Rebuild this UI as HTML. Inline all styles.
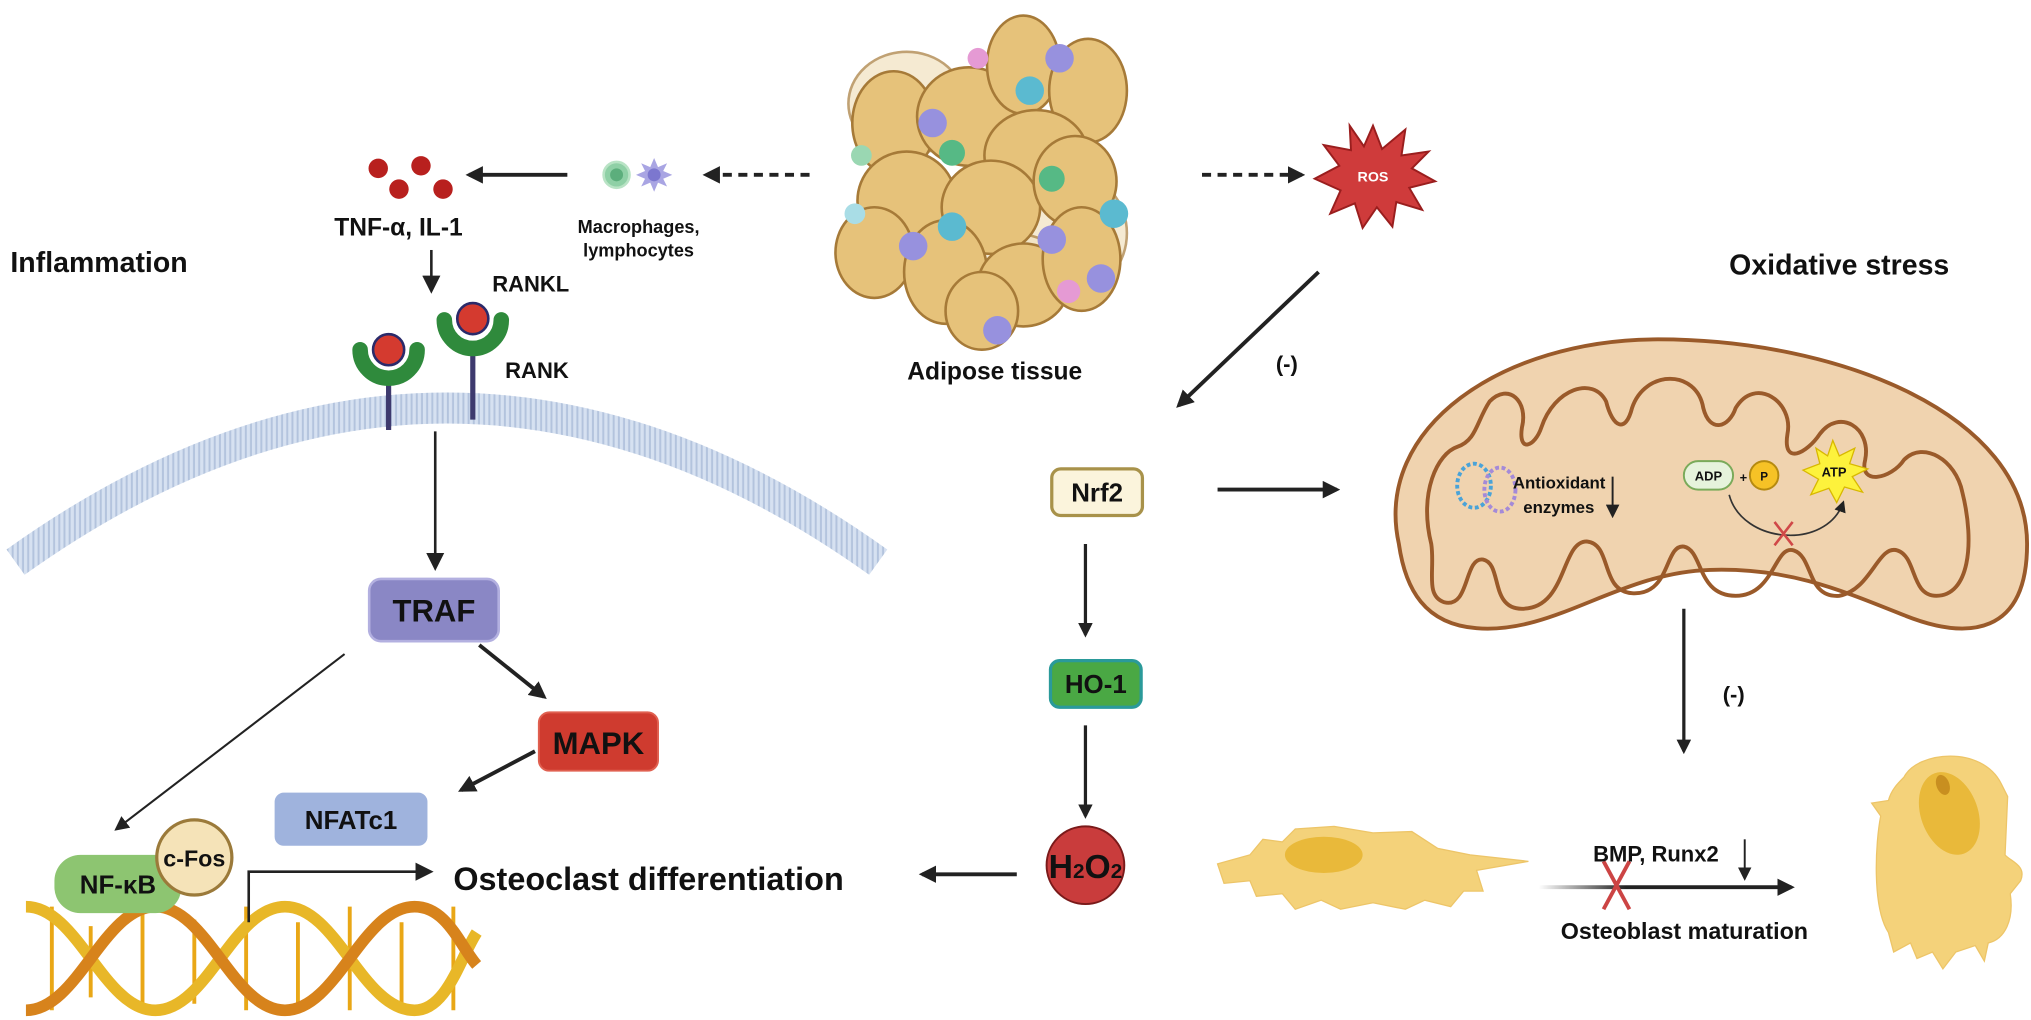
<!DOCTYPE html>
<html><head><meta charset="utf-8"><style>
html,body{margin:0;padding:0;background:#fff;}
svg{display:block;}
text{font-family:"Liberation Sans",sans-serif;font-weight:bold;fill:#111;}
</style></head><body>
<svg width="2031" height="1020" viewBox="0 0 1568 787.5" xmlns="http://www.w3.org/2000/svg">
<defs>
<marker id="ah" viewBox="0 0 10 10" refX="8" refY="5" markerWidth="4.5" markerHeight="4.5" orient="auto"><path d="M0,0 L10,5 L0,10 z" fill="#222"/></marker>
<marker id="ahs" viewBox="0 0 10 10" refX="8" refY="5" markerWidth="7" markerHeight="7" orient="auto"><path d="M0,0 L10,5 L0,10 z" fill="#222"/></marker>
<linearGradient id="fade" gradientUnits="userSpaceOnUse" x1="1188" y1="0" x2="1300" y2="0"><stop offset="0" stop-color="#222" stop-opacity="0"/><stop offset="0.6" stop-color="#222"/><stop offset="1" stop-color="#222"/></linearGradient>
<pattern id="lip" width="4" height="30" patternUnits="userSpaceOnUse"><rect width="4" height="30" fill="#dfe8f4"/><rect x="1" y="0" width="1.5" height="30" fill="#a9bbd6"/></pattern>
</defs>

<text x="8" y="210" font-size="22">Inflammation</text>
<text x="1335" y="212" font-size="22">Oxidative stress</text>

<g fill="#b8201e"><circle cx="292" cy="130" r="7.5"/><circle cx="325" cy="128" r="7.5"/><circle cx="308" cy="146" r="7.5"/><circle cx="342" cy="146" r="7.5"/></g>
<line x1="438" y1="135" x2="362" y2="135" stroke="#222" stroke-width="3" marker-end="url(#ah)"/>
<circle cx="476" cy="135" r="10" fill="#8fd0a6" stroke="#b9e3c5" stroke-width="2"/>
<circle cx="476" cy="135" r="5" fill="#5cae7c"/>
<polygon points="505,122 508,129 515,126 512,132 519,135 512,138 515,144 508,141 505,148 502,141 495,144 498,138 491,135 498,132 495,126 502,129" fill="#a9a5e3"/>
<circle cx="505" cy="135" r="5" fill="#7c77cf"/>
<line x1="625" y1="135" x2="545" y2="135" stroke="#222" stroke-width="3" stroke-dasharray="7,5" marker-end="url(#ah)"/>
<text x="258" y="182" font-size="19">TNF-α, IL-1</text>
<text x="493" y="180" font-size="14" text-anchor="middle">Macrophages,</text>
<text x="493" y="198" font-size="14" text-anchor="middle">lymphocytes</text>
<line x1="333" y1="193" x2="333" y2="224" stroke="#222" stroke-width="2" marker-end="url(#ahs)"/>
<text x="380" y="225" font-size="17">RANKL</text>
<text x="390" y="292" font-size="17">RANK</text>

<path d="M12,434 Q345,196 678,434" fill="none" stroke="url(#lip)" stroke-width="24"/>
<path d="M12,434 Q345,196 678,434" fill="none" stroke="#c7d5ea" stroke-width="24" stroke-opacity="0.35"/>

<g>
<line x1="300" y1="290" x2="300" y2="332" stroke="#3e3a6e" stroke-width="4"/>
<path d="M278,270 A22,22 0 0 0 322,270" fill="none" stroke="#2f8a3c" stroke-width="12" stroke-linecap="round"/>
<circle cx="300" cy="270" r="12" fill="#d43a2f" stroke="#2a2a6a" stroke-width="2"/>
<line x1="365" y1="265" x2="365" y2="324" stroke="#3e3a6e" stroke-width="4"/>
<path d="M343,247 A22,22 0 0 0 387,247" fill="none" stroke="#2f8a3c" stroke-width="12" stroke-linecap="round"/>
<circle cx="365" cy="246" r="12" fill="#d43a2f" stroke="#2a2a6a" stroke-width="2"/>
</g>

<line x1="336" y1="333" x2="336" y2="438" stroke="#222" stroke-width="2" marker-end="url(#ahs)"/>

<rect x="285" y="447" width="100" height="48" rx="9" fill="#8a87c5" stroke="#b3b0e0" stroke-width="2"/>
<text x="335" y="480" font-size="24" text-anchor="middle">TRAF</text>
<line x1="370" y1="498" x2="420" y2="538" stroke="#222" stroke-width="3" marker-end="url(#ah)"/>
<rect x="416" y="550" width="92" height="45" rx="8" fill="#cf3b2f" stroke="#e06050" stroke-width="1.5"/>
<text x="462" y="582" font-size="24" text-anchor="middle">MAPK</text>
<line x1="413" y1="580" x2="356" y2="610" stroke="#222" stroke-width="3" marker-end="url(#ah)"/>
<rect x="212" y="612" width="118" height="41" rx="7" fill="#9fb3dd"/>
<text x="271" y="640" font-size="20" text-anchor="middle">NFATc1</text>
<line x1="266" y1="505" x2="90" y2="640" stroke="#222" stroke-width="1.6" marker-end="url(#ahs)"/>

<g>
<g stroke="#e9a716" stroke-width="3">
<line x1="40" y1="700" x2="40" y2="780"/><line x1="70" y1="715" x2="70" y2="770"/><line x1="110" y1="705" x2="110" y2="780"/><line x1="150" y1="710" x2="150" y2="775"/><line x1="190" y1="700" x2="190" y2="780"/><line x1="230" y1="712" x2="230" y2="775"/><line x1="270" y1="700" x2="270" y2="780"/><line x1="310" y1="712" x2="310" y2="775"/><line x1="350" y1="700" x2="350" y2="780"/>
</g>
<path d="M20,700 C60,700 80,780 120,780 C160,780 180,700 220,700 C260,700 280,780 320,780 C345,780 355,740 368,720" fill="none" stroke="#e8b728" stroke-width="9"/>
<path d="M20,780 C60,780 80,700 120,700 C160,700 180,780 220,780 C260,780 280,700 320,700 C345,700 355,730 368,745" fill="none" stroke="#d7831c" stroke-width="9"/>
</g>
<rect x="42" y="660" width="98" height="45" rx="20" fill="#8dc571"/>
<text x="91" y="690" font-size="20" text-anchor="middle">NF-κB</text>
<circle cx="150" cy="662" r="29" fill="#f5e3b8" stroke="#9b7a3a" stroke-width="2.5"/>
<text x="150" y="669" font-size="18" text-anchor="middle">c-Fos</text>
<polyline points="192,712 192,673 332,673" fill="none" stroke="#222" stroke-width="2" marker-end="url(#ahs)"/>
<text x="350" y="687" font-size="25">Osteoclast differentiation</text>
<line x1="785" y1="675" x2="712" y2="675" stroke="#222" stroke-width="3" marker-end="url(#ah)"/>

<circle cx="838" cy="668" r="30" fill="#c93c3c" stroke="#7a1a1a" stroke-width="1.5"/>
<text x="838" y="678" font-size="26" text-anchor="middle">H<tspan font-size="16">2</tspan>O<tspan font-size="16">2</tspan></text>
<line x1="838" y1="560" x2="838" y2="630" stroke="#222" stroke-width="2.5" marker-end="url(#ah)"/>
<rect x="811" y="510" width="70" height="36" rx="7" fill="#4aa844" stroke="#2a9a9a" stroke-width="2.5"/>
<text x="846" y="535" font-size="20" text-anchor="middle">HO-1</text>
<line x1="838" y1="420" x2="838" y2="490" stroke="#222" stroke-width="2.5" marker-end="url(#ah)"/>
<rect x="812" y="362" width="70" height="36" rx="7" fill="#fbf4dc" stroke="#a8924a" stroke-width="2.5"/>
<text x="847" y="387" font-size="20" text-anchor="middle">Nrf2</text>
<line x1="940" y1="378" x2="1032" y2="378" stroke="#222" stroke-width="3" marker-end="url(#ah)"/>
<line x1="1018" y1="210" x2="910" y2="313" stroke="#222" stroke-width="3" marker-end="url(#ah)"/>
<text x="985" y="287" font-size="17" font-weight="normal">(-)</text>

<g stroke="#a67a38" stroke-width="2">
<ellipse cx="700" cy="80" rx="45" ry="40" fill="#f1e2c0" opacity="0.7"/>
<ellipse cx="830" cy="180" rx="40" ry="45" fill="#f1e2c0" opacity="0.7"/>
<ellipse cx="780" cy="210" rx="45" ry="30" fill="#f1e2c0" opacity="0.7"/>
<g fill="#e6c27a">
<ellipse cx="690" cy="95" rx="32" ry="40"/>
<ellipse cx="748" cy="90" rx="40" ry="38"/>
<ellipse cx="790" cy="50" rx="28" ry="38"/>
<ellipse cx="840" cy="70" rx="30" ry="40"/>
<ellipse cx="800" cy="120" rx="40" ry="35"/>
<ellipse cx="700" cy="155" rx="38" ry="38"/>
<ellipse cx="765" cy="160" rx="38" ry="36"/>
<ellipse cx="830" cy="140" rx="32" ry="35"/>
<ellipse cx="675" cy="195" rx="30" ry="35"/>
<ellipse cx="730" cy="210" rx="32" ry="40"/>
<ellipse cx="790" cy="220" rx="35" ry="32"/>
<ellipse cx="835" cy="200" rx="30" ry="40"/>
<ellipse cx="758" cy="240" rx="28" ry="30"/>
</g>
</g>
<g>
<circle cx="755" cy="45" r="8" fill="#e59ad4"/><circle cx="735" cy="118" r="10" fill="#56b985"/><circle cx="812" cy="138" r="10" fill="#56b985"/>
<circle cx="795" cy="70" r="11" fill="#5bbad0"/><circle cx="735" cy="175" r="11" fill="#5bbad0"/><circle cx="860" cy="165" r="11" fill="#5bbad0"/>
<circle cx="720" cy="95" r="11" fill="#9791de"/><circle cx="818" cy="45" r="11" fill="#9791de"/><circle cx="705" cy="190" r="11" fill="#9791de"/><circle cx="812" cy="185" r="11" fill="#9791de"/><circle cx="850" cy="215" r="11" fill="#9791de"/><circle cx="770" cy="255" r="11" fill="#9791de"/>
<circle cx="825" cy="225" r="9" fill="#e59ad4"/><circle cx="665" cy="120" r="8" fill="#9ad7b2"/><circle cx="660" cy="165" r="8" fill="#a9dde6"/>
</g>
<text x="768" y="293" font-size="19" text-anchor="middle">Adipose tissue</text>

<line x1="928" y1="135" x2="1005" y2="135" stroke="#222" stroke-width="3" stroke-dasharray="7,5" marker-end="url(#ah)"/>
<polygon points="1060,97 1067,115 1085,100 1082,120 1103,117 1090,130 1108,140 1088,145 1098,162 1078,156 1075,175 1063,160 1052,176 1046,157 1027,165 1035,147 1015,138 1034,128 1022,112 1043,116 1042,97 1053,113" fill="#cf3b3b" stroke="#9a1e1e" stroke-width="1.5"/>
<text x="1060" y="140" font-size="11" text-anchor="middle" style="fill:#fff">ROS</text>

<path d="M1080,420 C1060,330 1160,262 1280,262 C1420,262 1565,320 1565,420 C1565,490 1520,495 1470,475 C1420,455 1380,438 1320,440 C1250,442 1200,490 1140,485 C1100,482 1085,455 1080,420 Z" fill="#f0d3af" stroke="#9a5a2a" stroke-width="3"/>
<path d="M1105,420 C1095,380 1110,350 1125,345 C1140,340 1140,325 1150,310 C1165,295 1180,310 1175,330 C1172,350 1185,345 1190,330 C1200,300 1230,290 1240,310 C1245,330 1255,335 1260,315 C1270,285 1310,285 1315,315 C1320,335 1335,330 1340,315 C1355,290 1385,310 1380,335 C1376,360 1395,350 1405,335 C1420,315 1445,330 1440,355 C1435,375 1460,370 1470,355 C1485,340 1510,355 1515,380 C1525,420 1520,460 1495,460 C1475,460 1480,430 1465,425 C1450,420 1445,455 1420,460 C1395,462 1400,430 1385,425 C1370,420 1370,460 1340,460 C1310,460 1315,425 1300,422 C1285,420 1290,460 1260,458 C1235,456 1245,420 1225,418 C1205,418 1210,470 1175,470 C1150,470 1160,435 1145,432 C1130,430 1135,470 1115,465 C1100,460 1108,440 1105,420 Z" fill="none" stroke="#9a5a2a" stroke-width="3"/>
<g>
<ellipse cx="1138" cy="375" rx="13" ry="17" fill="none" stroke="#4aa3d8" stroke-width="3" stroke-dasharray="3,2"/>
<ellipse cx="1158" cy="378" rx="12" ry="17" fill="none" stroke="#a48ad8" stroke-width="3" stroke-dasharray="3,2"/>
</g>
<text x="1168" y="377" font-size="13">Antioxidant</text>
<text x="1176" y="396" font-size="13">enzymes</text>
<line x1="1245" y1="368" x2="1245" y2="398" stroke="#222" stroke-width="1.5" marker-end="url(#ahs)"/>
<rect x="1300" y="356" width="38" height="22" rx="11" fill="#e6f3dc" stroke="#7aaa5a" stroke-width="1.5"/>
<text x="1319" y="371" font-size="10" font-weight="normal" text-anchor="middle">ADP</text>
<text x="1346" y="372" font-size="10" text-anchor="middle">+</text>
<circle cx="1362" cy="367" r="11" fill="#f6c226" stroke="#b58a10" stroke-width="1.5"/>
<text x="1362" y="371" font-size="9" font-weight="normal" text-anchor="middle">P</text>
<polygon points="1415,340 1420,352 1432,346 1428,358 1442,362 1430,368 1438,380 1424,376 1418,388 1412,377 1398,382 1404,370 1392,363 1405,358 1402,346 1411,352" fill="#fdf23c" stroke="#d8b800" stroke-width="1"/>
<text x="1416" y="368" font-size="10" text-anchor="middle">ATP</text>
<path d="M1335,382 C1345,420 1410,425 1423,388" fill="none" stroke="#333" stroke-width="1.3" marker-end="url(#ahs)"/>
<g stroke="#d04848" stroke-width="2"><line x1="1370" y1="403" x2="1384" y2="421"/><line x1="1384" y1="403" x2="1370" y2="421"/></g>

<line x1="1300" y1="470" x2="1300" y2="580" stroke="#222" stroke-width="2.5" marker-end="url(#ah)"/>
<text x="1330" y="542" font-size="17" font-weight="normal">(-)</text>

<path d="M940,667 L965,660 L975,648 L990,650 L1000,640 L1030,638 L1060,643 L1090,642 L1110,655 L1135,660 L1180,665 L1140,672 L1145,688 L1130,688 L1120,700 L1100,695 L1085,702 L1060,697 L1035,702 L1020,695 L1000,702 L990,690 L970,692 L965,680 L945,682 Z" fill="#f4d27a" stroke="#edc568" stroke-width="1"/>
<ellipse cx="1022" cy="660" rx="30" ry="14" fill="#e9b93a"/>
<line x1="1188" y1="685" x2="1383" y2="685" stroke="url(#fade)" stroke-width="3" marker-end="url(#ah)"/>
<g stroke="#c44" stroke-width="3"><line x1="1238" y1="665" x2="1258" y2="702"/><line x1="1258" y1="665" x2="1238" y2="702"/></g>
<text x="1230" y="665" font-size="17">BMP, Runx2</text>
<line x1="1347" y1="648" x2="1347" y2="678" stroke="#222" stroke-width="1.5" marker-end="url(#ahs)"/>
<text x="1205" y="725" font-size="18">Osteoblast maturation</text>

<path d="M1470,600 C1480,580 1530,575 1545,605 L1550,615 L1548,660 C1552,665 1565,668 1560,680 L1552,690 C1555,710 1548,725 1535,728 L1532,742 L1525,730 L1510,735 L1500,748 L1492,735 L1480,740 L1475,728 L1462,735 L1458,720 C1445,700 1448,650 1452,630 L1445,620 L1458,618 C1460,610 1465,605 1470,600 Z" fill="#f4d27a" stroke="#edc568" stroke-width="1"/>
<ellipse cx="1505" cy="628" rx="22" ry="33" fill="#e9b93a" transform="rotate(-20 1505 628)"/>
<ellipse cx="1500" cy="606" rx="5" ry="8" fill="#c88f20" transform="rotate(-20 1500 606)"/>
</svg>
</body></html>
